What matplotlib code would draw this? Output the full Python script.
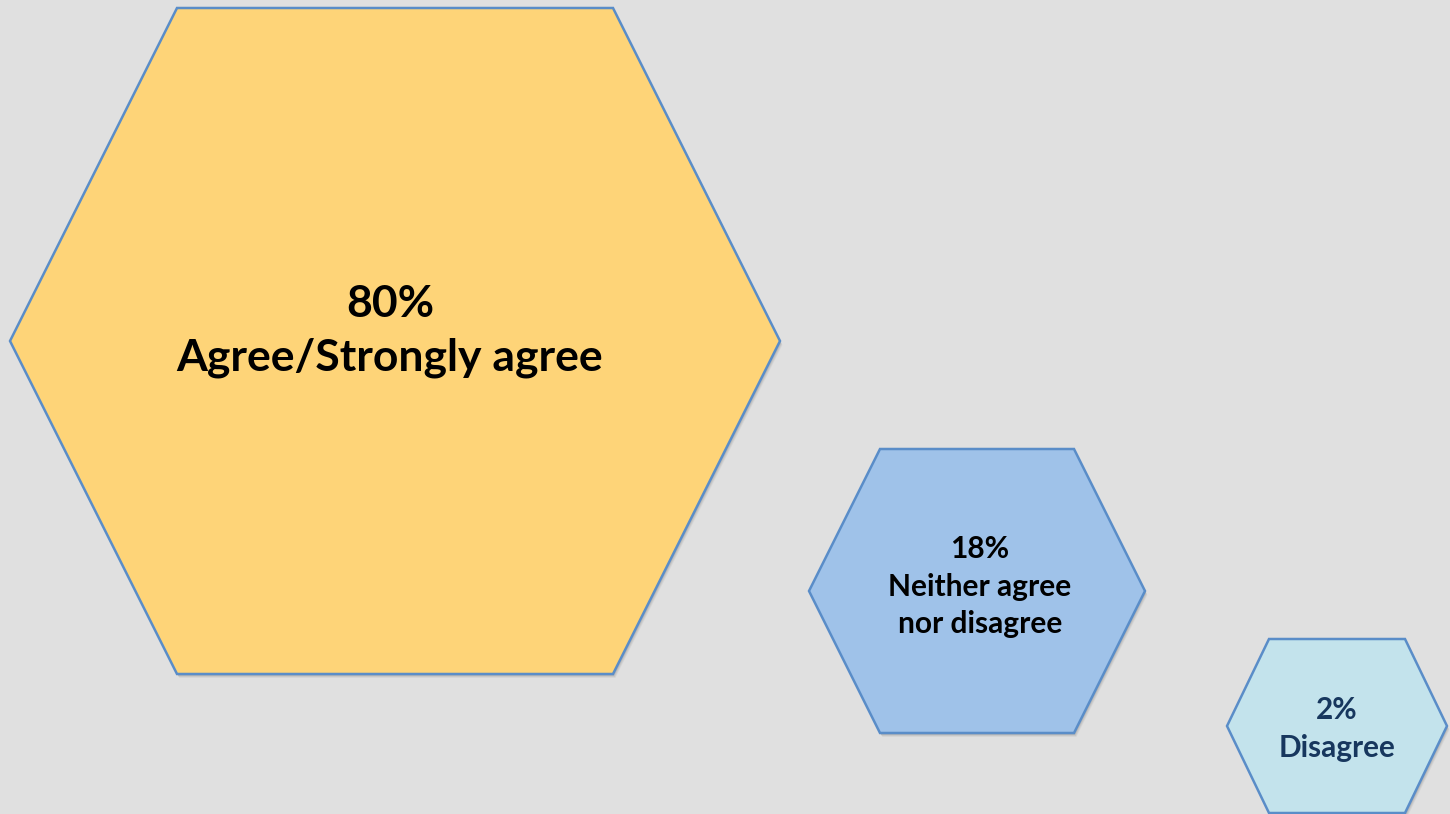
import matplotlib
matplotlib.use("Agg")
import matplotlib.pyplot as plt
from matplotlib.patches import Polygon

# ---- data ----
percentages = ["80%", "18%", "2%"]
categories = [["Agree/Strongly agree"], ["Neither agree", "nor disagree"], ["Disagree"]]

# ---- layout (pixel coordinates) ----
W, H = 1450, 814
centers_x = [395, 977, 1337]
centers_y = [341, 591, 726]
half_w = [385, 168, 110]
slant = [167, 71, 42]
half_h = [333, 142, 87]
text_x = [390, 980, 1337]
fills = ["#FED478", "#9FC2E9", "#C3E3EC"]
text_colors = ["#000000", "#000000", "#17375E"]
font_sizes = [32, 21.5, 21.4]
baselines = [[317, 370], [558, 596, 633], [719, 757]]
edge = "#5A8DC8"
bg = "#E0E0E0"

fig = plt.figure(figsize=(W / 100, H / 100), dpi=100)
fig.patch.set_facecolor(bg)
ax = fig.add_axes([0, 0, 1, 1])
ax.set_xlim(0, W)
ax.set_ylim(H, 0)
ax.axis("off")
ax.set_facecolor(bg)

for i in range(3):
    cx, cy, hw, s, hh = centers_x[i], centers_y[i], half_w[i], slant[i], half_h[i]
    pts = [(cx - hw, cy), (cx - hw + s, cy - hh), (cx + hw - s, cy - hh),
           (cx + hw, cy), (cx + hw - s, cy + hh), (cx - hw + s, cy + hh)]
    # soft shadow
    for k, a in [(4, 0.10), (3, 0.15), (2, 0.2)]:
        sh = [(x + k * 0.6, y + k) for x, y in pts]
        ax.add_patch(Polygon(sh, closed=True, facecolor="#7a7a7a", edgecolor="none", alpha=a, zorder=1))
    ax.add_patch(Polygon(pts, closed=True, facecolor=fills[i], edgecolor=edge, linewidth=1.8, zorder=2,
                         joinstyle="miter"))
    lines = [percentages[i]] + categories[i]
    for line, by in zip(lines, baselines[i]):
        ax.text(text_x[i], by, line, ha="center", va="baseline", fontsize=font_sizes[i],
                fontweight="bold", family=["Lato", "DejaVu Sans"], color=text_colors[i], zorder=3)

fig.savefig("out.png", dpi=100, facecolor=bg)
